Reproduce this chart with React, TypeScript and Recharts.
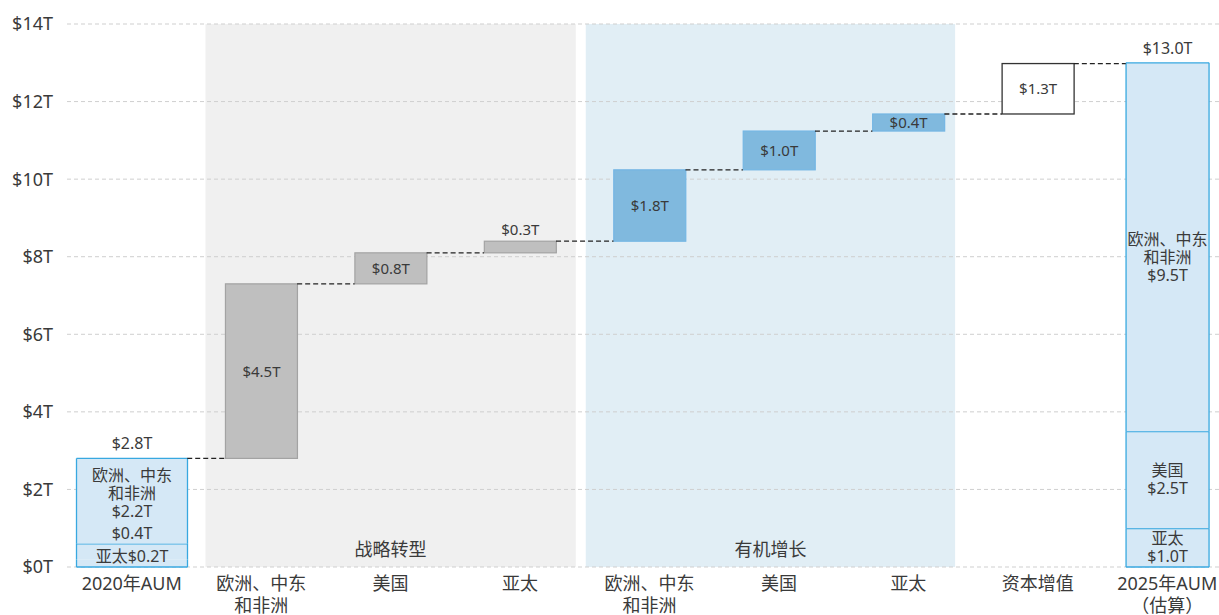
import React from 'react';
import { ComposedChart, Bar, XAxis, YAxis, CartesianGrid, ReferenceArea, ReferenceLine } from 'recharts';

const categoryKeys = ['k0', 'k1', 'k2', 'k3', 'k4', 'k5', 'k6', 'k7', 'k8'];
const categoryLabels: string[][] = [
  ['2020年AUM'],
  ['欧洲、中东', '和非洲'],
  ['美国'],
  ['亚太'],
  ['欧洲、中东', '和非洲'],
  ['美国'],
  ['亚太'],
  ['资本增值'],
  ['2025年AUM', '（估算）'],
];
const regionNames: string[][] = [['亚太'], ['美国'], ['欧洲、中东', '和非洲']];
const aum2020 = [0.2, 0.4, 2.2];
const aum2025 = [1.0, 2.5, 9.5];
const changeValues = [4.5, 0.8, 0.3, 1.84, 1.0, 0.44, 1.3];
const changeGroups = ['strategic', 'strategic', 'strategic', 'organic', 'organic', 'organic', 'capital'];
const groupTitles = ['战略转型', '有机增长'];
const yTicks = [0, 2, 4, 6, 8, 10, 12, 14];

const fmt = (v: number) => `$${v.toFixed(1)}T`;
const sum = (a: number[]) => a.reduce((s, v) => s + v, 0);

const rows: any[] = [];
let running = sum(aum2020);
rows.push({ key: categoryKeys[0], base: 0, delta: 0, apac: aum2020[0], us: aum2020[1], emea: aum2020[2], top: running });
changeValues.forEach((v, i) => {
  rows.push({ key: categoryKeys[i + 1], base: running, delta: v, apac: 0, us: 0, emea: 0, group: changeGroups[i], top: running + v });
  running += v;
});
rows.push({ key: categoryKeys[8], base: 0, delta: 0, apac: aum2025[0], us: aum2025[1], emea: aum2025[2], top: sum(aum2025) });

const FONT = "'Noto Sans', 'Noto Sans CJK SC', sans-serif";
const SEG_FILL = '#d5e8f6';
const SEG_STROKE = '#38a8e0';
const TEXT = '#3a3a3a';

const barWidthFor = (i: number) => (i === 0 ? 111 : i === 8 ? 83 : 72);

const groupStyle: Record<string, { fill: string; stroke: string; sw: number }> = {
  strategic: { fill: '#bfbfbf', stroke: '#a3a3a3', sw: 1.2 },
  organic: { fill: '#80b9de', stroke: '#74b6e4', sw: 1.2 },
  capital: { fill: '#ffffff', stroke: '#333333', sw: 1.3 },
};

const Lines = ({ cx, center, lines, size = 16, lh = 18 }: any) => {
  const first = center - ((lines.length - 1) * lh) / 2;
  return (
    <text textAnchor="middle" fontSize={size} fill={TEXT}>
      {lines.map((l: string, k: number) => (
        <tspan key={k} x={cx} y={first + k * lh + size * 0.36}>
          {l}
        </tspan>
      ))}
    </text>
  );
};

const InvisibleShape = () => <g />;

const DeltaShape = (props: any) => {
  const { x, y, width, height, index, payload } = props;
  if (!height || height <= 0 || !payload.group) return <g />;
  const st = groupStyle[payload.group];
  const w = barWidthFor(index);
  const cx = x + width / 2;
  const small = height < 14;
  return (
    <g>
      <rect x={cx - w / 2} y={y} width={w} height={height} fill={st.fill} stroke={st.stroke} strokeWidth={st.sw} />
      <Lines cx={cx} center={small ? y - 12 : y + height / 2} lines={[fmt(payload.delta)]} size={15} />
    </g>
  );
};

const makeSegmentShape = (seg: number) => (props: any) => {
  const { x, y, width, height, index } = props;
  if (!height || height <= 0) return <g />;
  const w = barWidthFor(index);
  const cx = x + width / 2;
  const left = cx - w / 2;
  const right = cx + w / 2;
  const bottom = y + height;
  const data = index === 0 ? aum2020 : aum2025;
  const drawTop = !(index === 0 && seg === 0);
  const sw = index === 0 ? 1.3 : 2;
  const parts: any[] = [
    <rect key="r" x={left} y={y} width={w} height={height} fill={SEG_FILL} />,
    <line key="l" x1={left} x2={left} y1={y} y2={bottom} stroke={SEG_STROKE} strokeWidth={1.3} />,
    <line key="rr" x1={right} x2={right} y1={y} y2={bottom} stroke={SEG_STROKE} strokeWidth={1.3} />,
  ];
  if (drawTop) parts.push(<line key="t" x1={left} x2={right} y1={y} y2={y} stroke={SEG_STROKE} strokeWidth={seg === 2 ? 1.3 : sw} />);
  if (seg === 0) parts.push(<line key="b" x1={left} x2={right} y1={bottom} y2={bottom} stroke={SEG_STROKE} strokeWidth={1.3} />);
  if (seg === 2) {
    const ppv = height / data[2];
    const stackBottom = bottom + (data[0] + data[1]) * ppv;
    const top0 = stackBottom - data[0] * ppv;
    const top1 = top0 - data[1] * ppv;
    parts.push(<Lines key="tot" cx={cx} center={y - 15} lines={[fmt(sum(data))]} />);
    if (index === 0) {
      parts.push(<Lines key="e" cx={cx} center={(y + bottom) / 2 - 8} lines={[...regionNames[2], fmt(data[2])]} />);
      parts.push(<Lines key="u" cx={cx} center={top1 - 10} lines={[fmt(data[1])]} />);
      parts.push(<Lines key="a" cx={cx} center={stackBottom - 11} lines={[regionNames[0][0] + fmt(data[0])]} />);
    } else {
      parts.push(<Lines key="e" cx={cx} center={(y + bottom) / 2 + 10} lines={[...regionNames[2], fmt(data[2])]} />);
      parts.push(<Lines key="u" cx={cx} center={(top1 + top0) / 2} lines={[...regionNames[1], fmt(data[1])]} />);
      parts.push(<Lines key="a" cx={cx} center={(top0 + stackBottom) / 2} lines={[...regionNames[0], fmt(data[0])]} />);
    }
  }
  return <g>{parts}</g>;
};

const bgShape = (fill: string, insetL: number, insetR: number, title: string) => (p: any) => {
  const x = p.x + insetL;
  const w = p.width - insetL - insetR;
  return (
    <g>
      <rect x={x} y={p.y} width={w} height={p.height} fill={fill} />
      <text x={x + w / 2} y={p.y + p.height - 11} textAnchor="middle" fontSize={18} fill={TEXT}>
        {title}
      </text>
    </g>
  );
};

const XTick = (props: any) => {
  const { x, y, payload } = props;
  const idx = categoryKeys.indexOf(payload.value);
  const lines = categoryLabels[idx] || [];
  return (
    <text textAnchor="middle" fontSize={18} fill={TEXT}>
      {lines.map((l, k) => (
        <tspan key={k} x={x} y={y + 15 + k * 22}>
          {l}
        </tspan>
      ))}
    </text>
  );
};

const connectorShape = (i: number) => (p: any) => (
  <line
    x1={p.x1 + barWidthFor(i) / 2}
    x2={p.x2 - barWidthFor(i + 1) / 2}
    y1={p.y1}
    y2={p.y2}
    stroke="#222"
    strokeWidth={1.3}
    strokeDasharray="5 3"
  />
);

export default function App() {
  return (
    <div style={{ position: 'fixed', left: 0, top: 0, width: 1219, height: 615, overflow: 'hidden', background: '#fff', fontFamily: FONT }}>
      <ComposedChart width={1240} height={615} data={rows} margin={{ top: 24, right: 8, left: 7, bottom: 0 }} barSize={72}>
        <ReferenceArea x1={categoryKeys[1]} x2={categoryKeys[3]} shape={bgShape('#f0f0f0', 9, 9, groupTitles[0])} zIndex={-150} ifOverflow="visible" />
        <ReferenceArea x1={categoryKeys[4]} x2={categoryKeys[6]} shape={bgShape('#e1eef5', 1, 18, groupTitles[1])} zIndex={-150} ifOverflow="visible" />
        <CartesianGrid vertical={false} stroke="#cfcfcf" strokeDasharray="4 3" />
        <XAxis dataKey="key" axisLine={false} tickLine={false} interval={0} height={48} tick={<XTick />} />
        <YAxis
          domain={[0, 14]}
          ticks={yTicks}
          axisLine={false}
          tickLine={false}
          width={60}
          tickMargin={8}
          tick={{ fontSize: 18, fill: TEXT }}
          tickFormatter={(v: number) => `$${v}T`}
        />
        <Bar dataKey="base" stackId="w" shape={InvisibleShape} isAnimationActive={false} />
        <Bar dataKey="delta" stackId="w" shape={DeltaShape} isAnimationActive={false} />
        <Bar dataKey="apac" stackId="w" shape={makeSegmentShape(0)} isAnimationActive={false} />
        <Bar dataKey="us" stackId="w" shape={makeSegmentShape(1)} isAnimationActive={false} />
        <Bar dataKey="emea" stackId="w" shape={makeSegmentShape(2)} isAnimationActive={false} />
        {rows.slice(0, 8).map((r, i) => (
          <ReferenceLine
            key={`c${i}`}
            segment={[
              { x: categoryKeys[i], y: r.top },
              { x: categoryKeys[i + 1], y: r.top },
            ]}
            shape={connectorShape(i)}
            ifOverflow="visible"
          />
        ))}
      </ComposedChart>
    </div>
  );
}
